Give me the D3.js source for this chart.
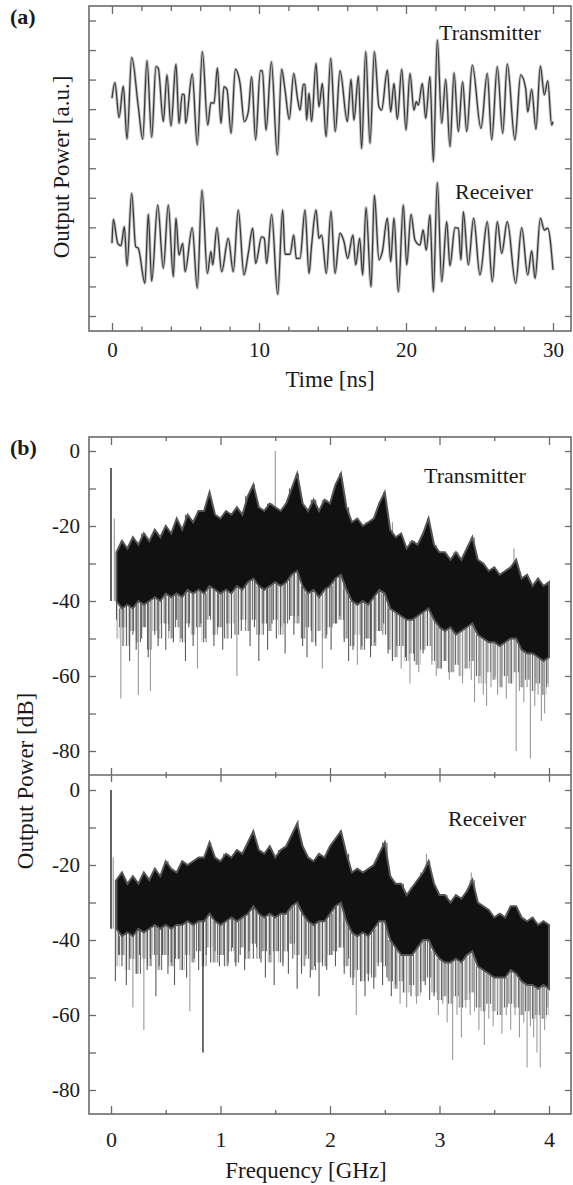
<!DOCTYPE html>
<html><head><meta charset="utf-8">
<script src="https://cdn.jsdelivr.net/npm/d3@7"></script>
<style>
body{margin:0;background:#fff}
svg{display:block}
text{font-family:"Liberation Serif","Times New Roman",serif;fill:#1a1a1a}
</style>
</head><body>
<svg id="c" width="573" height="1185"></svg>
<script>
// ---------- Panel (a): time traces (extrema) ----------
const timeTxNs = [0.00,0.20,0.48,0.77,1.02,1.34,1.79,2.09,2.38,2.70,
2.99,3.15,3.49,3.74,4.01,4.35,4.56,4.78,4.92,5.01,
5.46,5.80,6.15,6.51,6.73,6.94,7.17,7.41,7.62,7.82,
8.10,8.39,8.71,9.00,9.27,9.50,9.77,10.09,10.23,10.48,
10.84,11.25,11.54,11.77,12.06,12.36,12.63,12.79,13.02,13.13,
13.24,13.40,13.58,13.88,14.08,14.31,14.56,14.88,15.19,15.51,
16.01,16.26,16.46,16.76,16.98,17.26,17.55,17.85,18.16,18.34,
18.73,18.96,19.18,19.41,19.71,20.00,20.27,20.54,20.70,20.84,
21.11,21.34,21.63,21.86,22.13,22.43,22.70,22.99,23.27,23.56,
23.85,24.13,24.51,25.10,25.53,25.83,26.21,26.58,26.89,27.41,
27.80,28.14,28.28,28.55,28.84,29.14,29.41,29.64,29.91,30.00];
const powerTx = [7.37,7.90,6.72,7.78,5.99,8.75,7.08,5.99,8.64,6.05,
8.44,8.38,6.58,8.16,6.43,8.52,6.52,7.51,7.48,6.52,
8.19,5.79,8.95,6.46,7.22,7.20,8.40,6.52,7.76,7.67,
6.18,8.35,7.87,6.58,6.91,8.10,5.96,8.30,8.30,6.29,
8.60,5.45,8.35,7.65,6.66,8.21,7.33,6.97,7.84,7.84,
6.63,7.54,6.58,8.55,7.08,7.87,6.07,8.72,6.24,8.30,
6.58,8.01,6.63,8.12,5.67,8.95,5.84,8.95,7.08,6.97,
8.32,6.91,7.87,6.66,8.35,6.29,8.21,6.97,7.25,7.14,
7.87,6.69,8.10,5.22,9.34,6.52,8.01,5.73,8.23,6.24,
7.93,6.24,8.49,6.35,8.21,5.96,8.44,6.18,8.53,5.96,
8.16,7.70,6.91,7.67,6.32,8.46,7.48,7.96,6.46,6.58];
const timeRxNs = [0.00,0.09,0.39,0.61,0.84,1.02,1.34,1.61,1.79,2.24,
2.47,2.70,3.11,3.49,3.83,4.17,4.35,4.56,4.81,4.97,
5.46,5.80,6.12,6.49,6.73,6.85,7.14,7.46,7.91,8.25,
8.59,8.98,9.27,9.57,9.77,10.18,10.36,10.52,10.86,11.27,
11.61,11.77,12.11,12.36,12.54,12.79,13.13,13.40,13.58,13.88,
14.08,14.26,14.58,14.90,15.17,15.51,15.78,16.03,16.39,16.58,
16.85,17.05,17.28,17.62,17.85,18.16,18.39,18.73,18.96,19.18,
19.48,19.82,20.05,20.34,20.61,20.95,21.16,21.38,21.63,21.86,
22.13,22.43,22.77,22.99,23.33,23.56,23.74,23.90,24.24,24.60,
25.03,25.53,25.87,26.21,26.51,26.89,27.46,27.87,28.28,28.55,
28.78,29.14,29.41,29.64,30.00];
const powerRx = [2.46,3.27,2.46,2.38,3.02,1.70,4.15,2.35,2.29,1.11,
3.44,1.18,3.76,1.61,3.76,1.33,3.31,2.06,2.46,1.50,
2.99,0.94,4.26,1.44,2.18,1.73,2.99,1.50,2.63,1.50,
3.59,1.39,2.12,2.97,1.78,2.68,2.63,1.78,3.44,0.73,
3.59,2.09,2.09,2.74,1.95,1.95,3.59,1.44,2.40,3.59,
2.63,2.74,1.44,3.55,1.44,2.80,2.52,1.95,2.74,1.73,
2.63,1.39,3.67,0.99,4.09,1.90,2.18,3.31,1.84,3.31,
0.82,3.76,1.73,3.44,2.57,2.40,2.91,2.23,3.42,0.82,
4.52,1.16,3.19,1.70,2.99,2.97,1.90,3.53,1.73,3.31,
1.39,3.19,1.16,3.19,2.12,3.19,1.11,2.99,1.39,2.20,
1.27,3.31,2.91,2.97,1.56];
const timeTicksMajor = [0,10,20,30];
const timeTicksMinor = [2,4,6,8,12,14,16,18,22,24,26,28];
const auTicks = [0,1,2,3,4,5,6,7,8,9,10];

// ---------- Panel (b): RF spectra (band edges, streak floor and isolated dips) ----------
const freqGHz = [0.05,0.10,0.15,0.20,0.25,0.30,0.35,0.40,0.45,0.50,
0.55,0.60,0.65,0.70,0.75,0.80,0.85,0.90,0.95,1.00,
1.05,1.10,1.15,1.20,1.25,1.30,1.35,1.40,1.45,1.50,
1.55,1.60,1.65,1.70,1.75,1.80,1.85,1.90,1.95,2.00,
2.05,2.10,2.15,2.20,2.25,2.30,2.35,2.40,2.45,2.50,
2.55,2.60,2.65,2.70,2.75,2.80,2.85,2.90,2.95,3.00,
3.05,3.10,3.15,3.20,3.25,3.30,3.35,3.40,3.45,3.50,
3.55,3.60,3.65,3.70,3.75,3.80,3.85,3.90,3.95,4.00];
const txUpper = [-27,-24,-26,-23,-25,-22,-24,-21,-23,-20,
-22,-18,-21,-17,-19,-16,-16,-11,-17,-18,
-16,-17,-15,-17,-12,-9,-15,-16,-14,-15,
-16,-14,-10,-6,-14,-16,-13,-16,-13,-14,
-9,-6,-15,-19,-18,-20,-19,-18,-14,-11,
-21,-23,-22,-26,-24,-25,-22,-18,-25,-27,
-27,-29,-27,-29,-26,-23,-29,-30,-32,-31,
-33,-32,-31,-29,-34,-33,-36,-34,-36,-35];
const txLower = [-40,-42,-41,-42,-40,-41,-40,-39,-40,-38,
-39,-38,-39,-37,-38,-37,-38,-36,-37,-38,
-37,-38,-36,-37,-35,-34,-36,-37,-36,-35,
-36,-35,-33,-32,-36,-38,-37,-39,-37,-36,
-34,-33,-37,-40,-41,-40,-41,-39,-37,-38,
-42,-43,-44,-45,-45,-44,-43,-42,-45,-47,
-48,-47,-49,-48,-47,-46,-49,-50,-51,-51,
-52,-51,-50,-50,-53,-54,-54,-55,-56,-55];
const txFloor = [-50,-47,-52,-48,-51,-47,-53,-48,-50,-46,
-50,-47,-51,-46,-49,-47,-51,-45,-49,-47,
-50,-46,-49,-45,-48,-45,-49,-46,-48,-45,
-49,-46,-44,-46,-50,-47,-51,-48,-50,-47,
-46,-45,-50,-52,-49,-53,-50,-52,-48,-49,
-53,-55,-52,-56,-54,-57,-53,-52,-56,-58,
-56,-59,-57,-60,-58,-56,-60,-62,-59,-61,
-63,-60,-62,-59,-63,-61,-64,-62,-65,-63];
const rxUpper = [-24,-22,-25,-23,-25,-22,-24,-21,-23,-19,
-21,-22,-19,-20,-19,-18,-18,-14,-18,-19,
-17,-18,-16,-17,-14,-11,-16,-17,-15,-18,
-16,-15,-12,-9,-15,-18,-19,-17,-18,-15,
-13,-11,-17,-22,-21,-22,-21,-20,-17,-14,
-23,-25,-25,-28,-26,-24,-22,-19,-25,-28,
-28,-30,-28,-29,-27,-24,-30,-31,-32,-34,
-33,-34,-31,-31,-34,-35,-34,-36,-35,-36];
const rxLower = [-37,-39,-38,-39,-37,-38,-37,-36,-37,-36,
-37,-36,-36,-35,-36,-35,-35,-33,-35,-36,
-35,-34,-35,-34,-33,-31,-33,-34,-33,-34,
-33,-33,-31,-30,-33,-35,-36,-35,-35,-33,
-31,-30,-35,-38,-39,-38,-39,-37,-35,-35,
-40,-42,-44,-44,-44,-42,-40,-40,-43,-45,
-46,-46,-45,-46,-44,-43,-47,-48,-49,-50,
-50,-50,-48,-49,-51,-52,-52,-53,-52,-53];
const rxFloor = [-47,-44,-48,-45,-49,-45,-47,-44,-48,-44,
-47,-45,-48,-44,-46,-43,-47,-42,-46,-44,
-47,-43,-46,-42,-45,-41,-45,-43,-46,-43,
-46,-43,-41,-44,-47,-45,-48,-46,-47,-44,
-43,-42,-47,-50,-48,-51,-49,-50,-46,-47,
-51,-53,-51,-54,-52,-55,-51,-50,-54,-56,
-55,-57,-55,-58,-56,-54,-58,-59,-57,-59,
-60,-58,-57,-58,-60,-59,-61,-60,-61,-60];
const txDips = [[0.05,-45],[0.09,-66],[0.11,-52],[0.14,-47],[0.17,-56],[0.20,-49],[0.23,-53],[0.25,-65],[0.28,-50],[0.31,-47],
[0.34,-55],[0.36,-64],[0.40,-49],[0.43,-52],[0.46,-46],[0.50,-53],[0.53,-48],[0.57,-51],[0.60,-45],[0.64,-50],
[0.68,-56],[0.71,-47],[0.75,-52],[0.79,-58],[0.82,-46],[0.86,-50],[0.90,-44],[0.94,-52],[0.98,-47],[1.02,-53],
[1.06,-46],[1.10,-50],[1.15,-60],[1.19,-48],[1.23,-45],[1.27,-52],[1.31,-47],[1.35,-56],[1.39,-49],[1.43,-53],
[1.47,-46],[1.51,-50],[1.55,-47],[1.59,-54],[1.63,-45],[1.67,-49],[1.71,-44],[1.75,-52],[1.79,-55],[1.83,-48],
[1.87,-52],[1.93,-58],[1.97,-49],[2.01,-53],[2.05,-46],[2.09,-44],[2.13,-51],[2.17,-56],[2.21,-53],[2.25,-57],
[2.29,-52],[2.33,-50],[2.37,-55],[2.41,-51],[2.45,-48],[2.49,-46],[2.53,-54],[2.57,-56],[2.61,-52],[2.65,-58],
[2.69,-55],[2.73,-62],[2.77,-56],[2.81,-59],[2.85,-54],[2.89,-52],[2.93,-57],[2.97,-60],[3.01,-58],[3.05,-56],
[3.09,-61],[3.13,-59],[3.17,-57],[3.21,-62],[3.25,-58],[3.29,-61],[3.32,-67],[3.36,-62],[3.40,-65],[3.43,-68],
[3.47,-63],[3.51,-60],[3.53,-65],[3.57,-63],[3.61,-66],[3.65,-62],[3.70,-80],[3.73,-64],[3.77,-67],[3.80,-63],
[3.83,-82],[3.87,-68],[3.90,-65],[3.93,-72],[3.96,-70],[3.99,-62]];
const rxDips = [[0.04,-51],[0.07,-44],[0.10,-47],[0.14,-52],[0.17,-45],[0.20,-58],[0.23,-49],[0.26,-44],[0.30,-64],[0.33,-48],
[0.36,-45],[0.41,-55],[0.44,-47],[0.47,-44],[0.52,-49],[0.55,-46],[0.58,-52],[0.62,-45],[0.65,-48],[0.69,-50],
[0.72,-59],[0.76,-45],[0.80,-48],[0.87,-44],[0.91,-46],[0.95,-43],[0.99,-47],[1.03,-44],[1.07,-46],[1.11,-42],
[1.14,-47],[1.18,-44],[1.22,-48],[1.26,-43],[1.30,-45],[1.33,-42],[1.37,-46],[1.41,-50],[1.45,-44],[1.49,-52],
[1.53,-43],[1.57,-47],[1.62,-49],[1.66,-45],[1.70,-53],[1.74,-49],[1.78,-44],[1.82,-50],[1.86,-47],[1.90,-55],
[1.93,-46],[1.97,-48],[2.01,-44],[2.05,-47],[2.09,-42],[2.13,-49],[2.17,-45],[2.21,-52],[2.24,-60],[2.28,-51],
[2.32,-55],[2.35,-51],[2.40,-53],[2.44,-47],[2.48,-52],[2.52,-50],[2.56,-55],[2.60,-52],[2.64,-57],[2.67,-54],
[2.70,-58],[2.74,-55],[2.79,-57],[2.83,-54],[2.87,-52],[2.91,-56],[2.95,-55],[2.99,-60],[3.03,-57],[3.07,-62],
[3.12,-72],[3.16,-60],[3.20,-66],[3.24,-58],[3.28,-60],[3.32,-59],[3.36,-64],[3.41,-68],[3.45,-61],[3.49,-63],
[3.53,-59],[3.57,-65],[3.61,-60],[3.65,-64],[3.69,-60],[3.73,-66],[3.77,-62],[3.80,-74],[3.83,-63],[3.86,-66],
[3.89,-70],[3.92,-74],[3.96,-64],[3.99,-58]];
const rxDarkDips = [[0.84,-70]];
const txSpikes = [[0.00,-4.5],[0.03,-18],[1.50,0],[2.57,-19],[3.68,-26]];
const rxSpikes = [[0.00,0],[0.02,-18],[1.71,-8],[2.88,-17],[3.29,-22]];
const freqTicksMajor = [0,1,2,3,4];
const freqTicksMinor = [0.5,1.5,2.5,3.5];
const dbTicks = [0,-10,-20,-30,-40,-50,-60,-70,-80];
const dbLabelled = [0,-20,-40,-60,-80];

// ---------- drawing ----------
const svg = d3.select('#c');
const L = 89, R = 571;
const FRAME = '#6a6a6a';
const TF = '"Liberation Serif","Times New Roman",serif';

function styleAxis(g, size){
  g.select('.domain').remove();
  g.attr('color', FRAME).attr('font-family', null).attr('font-size', null);
  g.selectAll('line').attr('stroke-width', 1.3);
  g.selectAll('text').style('font-family', TF).style('font-size', (size||21)+'px').attr('fill', '#1a1a1a');
  return g;
}

const defs = svg.append('defs');
// texture of dense vertical streaks (style only)
const pat = defs.append('pattern').attr('id','streaks').attr('patternUnits','userSpaceOnUse')
  .attr('width',7).attr('height',60);
[[0,1.1,'#6e6e6e'],[1.9,0.8,'#b4b4b4'],[3.4,1.1,'#555'],[5.4,0.8,'#a0a0a0']].forEach(s=>{
  pat.append('rect').attr('x',s[0]).attr('y',0).attr('width',s[1]).attr('height',60).attr('fill',s[2]);
});

// ===== Panel (a) =====
const aTop = 6, aBot = 331;
const xa = d3.scaleLinear().domain([0,30]).range([112,553]);
const ya = d3.scaleLinear().domain([0,10]).range([316,20.5]);

const lineA = d3.line().x(d=>xa(d[0])).y(d=>ya(d[1])).curve(d3.curveMonotoneX);
const txPts = timeTxNs.map((t,i)=>[t,powerTx[i]]);
const rxPts = timeRxNs.map((t,i)=>[t,powerRx[i]]);
[txPts, rxPts].forEach(pts=>{
  svg.append('path').attr('d', lineA(pts)).attr('fill','none').attr('stroke','#c4c4c4').attr('stroke-width',3).attr('stroke-linejoin','round');
  svg.append('path').attr('d', lineA(pts)).attr('fill','none').attr('stroke','#3a3a3a').attr('stroke-width',1.3).attr('stroke-linejoin','round');
});

svg.append('rect').attr('x',L).attr('y',aTop).attr('width',R-L).attr('height',aBot-aTop)
  .attr('fill','none').attr('stroke',FRAME).attr('stroke-width',1.6);

styleAxis(svg.append('g').attr('transform',`translate(0,${aBot})`)
  .call(d3.axisBottom(xa).tickValues(timeTicksMajor).tickSize(-8).tickPadding(11).tickFormat(d=>String(d))));
styleAxis(svg.append('g').attr('transform',`translate(0,${aBot})`)
  .call(d3.axisBottom(xa).tickValues(timeTicksMinor).tickSize(-4.5).tickFormat('')));
styleAxis(svg.append('g').attr('transform',`translate(0,${aTop})`)
  .call(d3.axisTop(xa).tickValues(timeTicksMajor).tickSize(-8).tickFormat('')));
styleAxis(svg.append('g').attr('transform',`translate(0,${aTop})`)
  .call(d3.axisTop(xa).tickValues(timeTicksMinor).tickSize(-5).tickFormat('')));
styleAxis(svg.append('g').attr('transform',`translate(${L},0)`)
  .call(d3.axisLeft(ya).tickValues(auTicks).tickSize(-7).tickFormat('')));
styleAxis(svg.append('g').attr('transform',`translate(${R},0)`)
  .call(d3.axisRight(ya).tickValues(auTicks).tickSize(-6).tickFormat('')));

svg.append('text').attr('x',10).attr('y',24).attr('font-weight','bold').style('font-size','22px').text('(a)');
svg.append('text').attr('x',439).attr('y',40).style('font-size','22px').text('Transmitter');
svg.append('text').attr('x',455).attr('y',199).style('font-size','22px').text('Receiver');
svg.append('text').attr('transform','translate(61,167) rotate(-90)').attr('text-anchor','middle')
  .attr('dy','0.35em').style('font-size','23px').text('Output Power [a.u.]');
svg.append('text').attr('x',330).attr('y',387).attr('text-anchor','middle').style('font-size','23px').text('Time [ns]');

// ===== Panel (b) =====
const bTop = 437, bMid = 775, bBot = 1114;
const xb = d3.scaleLinear().domain([0,4]).range([111,549]);
const ybTop = d3.scaleLinear().domain([-80,0]).range([751,451]);
const ybBot = d3.scaleLinear().domain([-80,0]).range([1090,790]);

defs.append('clipPath').attr('id','clipT').append('rect').attr('x',L).attr('y',bTop).attr('width',R-L).attr('height',bMid-bTop);
defs.append('clipPath').attr('id','clipB').append('rect').attr('x',L).attr('y',bMid).attr('width',R-L).attr('height',bBot-bMid);

const nearest = d3.bisector(d=>d).center;

function spectrum(yS, upper, lower, floor, dips, darkDips, spikes, clipId){
  const g = svg.append('g').attr('clip-path',`url(#${clipId})`);
  // dense grey streaks between the band and the streak floor
  const streakArea = d3.area().x((d,i)=>xb(freqGHz[i]))
    .y0((d,i)=>yS(floor[i])).y1((d,i)=>yS(lower[i])).curve(d3.curveStep);
  g.append('path').attr('d', streakArea(freqGHz)).attr('fill','url(#streaks)');
  // isolated deep dips
  g.selectAll('line.dip').data(dips).join('line').attr('class','dip')
    .attr('x1',d=>xb(d[0])).attr('x2',d=>xb(d[0]))
    .attr('y1',d=>yS(upper[nearest(freqGHz,d[0])]))
    .attr('y2',d=>yS(d[1]))
    .attr('stroke',d=>d[1] < -56 ? '#9a9a9a' : '#5a5a5a').attr('stroke-width',1.1);
  g.selectAll('line.dark').data(darkDips).join('line').attr('class','dark')
    .attr('x1',d=>xb(d[0])).attr('x2',d=>xb(d[0]))
    .attr('y1',d=>yS(upper[nearest(freqGHz,d[0])]))
    .attr('y2',d=>yS(d[1]))
    .attr('stroke','#222').attr('stroke-width',1.3);
  // upward spikes
  g.selectAll('line.spk').data(spikes).join('line').attr('class','spk')
    .attr('x1',d=>xb(d[0])).attr('x2',d=>xb(d[0]))
    .attr('y1',d=>yS(d[1]))
    .attr('y2',d=>yS(lower[nearest(freqGHz,d[0])]))
    .attr('stroke',d=>d[0]===0 ? '#222' : '#8a8a8a').attr('stroke-width',d=>d[0]===0 ? 1.4 : 1);
  // dense band
  const area = d3.area().x((d,i)=>xb(freqGHz[i])).y0((d,i)=>yS(lower[i])).y1((d,i)=>yS(upper[i]));
  g.append('path').attr('d', area(freqGHz)).attr('fill','#111').attr('stroke','#555').attr('stroke-width',2).attr('stroke-linejoin','miter');
}
spectrum(ybTop, txUpper, txLower, txFloor, txDips, [], txSpikes, 'clipT');
spectrum(ybBot, rxUpper, rxLower, rxFloor, rxDips, rxDarkDips, rxSpikes, 'clipB');

svg.append('rect').attr('x',L).attr('y',bTop).attr('width',R-L).attr('height',bBot-bTop)
  .attr('fill','none').attr('stroke',FRAME).attr('stroke-width',1.6);
svg.append('line').attr('x1',L).attr('x2',R).attr('y1',bMid).attr('y2',bMid).attr('stroke',FRAME).attr('stroke-width',1.6);

styleAxis(svg.append('g').attr('transform',`translate(0,${bTop})`)
  .call(d3.axisTop(xb).tickValues(freqTicksMajor).tickSize(-8).tickFormat('')));
styleAxis(svg.append('g').attr('transform',`translate(0,${bTop})`)
  .call(d3.axisTop(xb).tickValues(freqTicksMinor).tickSize(-4).tickFormat('')));
styleAxis(svg.append('g').attr('transform',`translate(0,${bMid})`)
  .call(d3.axisTop(xb).tickValues(freqTicksMajor).tickSize(7).tickFormat('')));
styleAxis(svg.append('g').attr('transform',`translate(0,${bMid})`)
  .call(d3.axisBottom(xb).tickValues(freqTicksMajor).tickSize(7).tickFormat('')));
styleAxis(svg.append('g').attr('transform',`translate(0,${bMid})`)
  .call(d3.axisTop(xb).tickValues(freqTicksMinor).tickSize(3).tickFormat('')));
styleAxis(svg.append('g').attr('transform',`translate(0,${bMid})`)
  .call(d3.axisBottom(xb).tickValues(freqTicksMinor).tickSize(3).tickFormat('')));
styleAxis(svg.append('g').attr('transform',`translate(0,${bBot})`)
  .call(d3.axisBottom(xb).tickValues(freqTicksMajor).tickSize(-8).tickPadding(17).tickFormat(d=>String(d))), 22);
styleAxis(svg.append('g').attr('transform',`translate(0,${bBot})`)
  .call(d3.axisBottom(xb).tickValues(freqTicksMinor).tickSize(-4).tickFormat('')));

[ybTop, ybBot].forEach(yS=>{
  styleAxis(svg.append('g').attr('transform',`translate(${L},0)`)
    .call(d3.axisLeft(yS).tickValues(dbTicks).tickSize(-7).tickPadding(9)
      .tickFormat(d=>dbLabelled.includes(d) ? String(d) : '')));
  styleAxis(svg.append('g').attr('transform',`translate(${R},0)`)
    .call(d3.axisRight(yS).tickValues(dbTicks).tickSize(-6).tickFormat('')));
});

svg.append('text').attr('x',10).attr('y',455).attr('font-weight','bold').style('font-size','22px').text('(b)');
svg.append('text').attr('x',424).attr('y',483).style('font-size','22px').text('Transmitter');
svg.append('text').attr('x',448).attr('y',826).style('font-size','22px').text('Receiver');
svg.append('text').attr('transform','translate(25,781) rotate(-90)').attr('text-anchor','middle')
  .attr('dy','0.35em').style('font-size','23px').text('Output Power [dB]');
svg.append('text').attr('x',306).attr('y',1178).attr('text-anchor','middle').style('font-size','23px').text('Frequency [GHz]');
</script>
</body></html>
